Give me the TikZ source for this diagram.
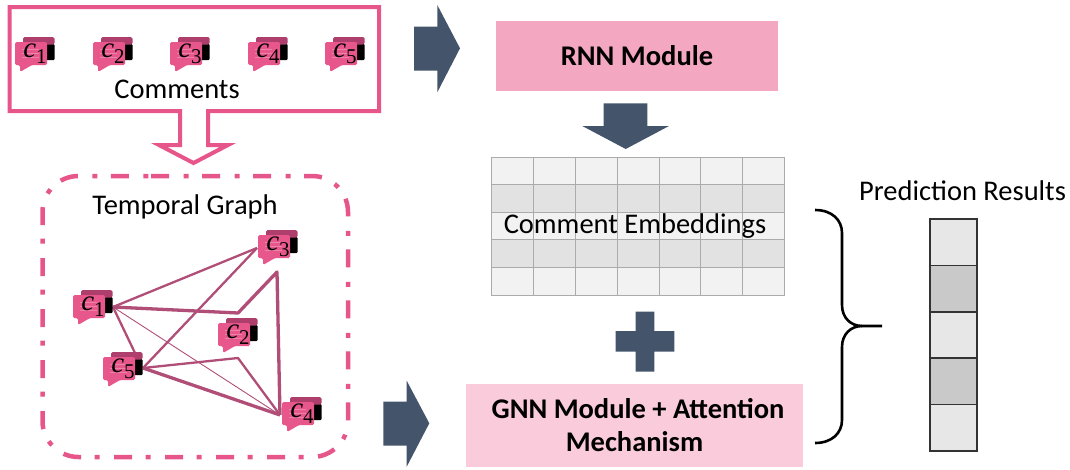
\documentclass[tikz,border=0pt]{standalone}
\usepackage{fontspec}
\setmainfont{Carlito}
\newfontfamily\cfont{Liberation Serif}
\definecolor{pinkline}{HTML}{E7568A}
\definecolor{iconback}{HTML}{AE3F6C}
\definecolor{iconfront}{HTML}{E8578C}
\definecolor{edgecol}{HTML}{B04E78}
\definecolor{slate}{HTML}{44546A}
\definecolor{rnnfill}{HTML}{F4A7C1}
\definecolor{gnnfill}{HTML}{F9CBDB}
\definecolor{gridlight}{HTML}{F2F2F2}
\definecolor{griddark}{HTML}{E2E2E2}
\definecolor{gridline}{HTML}{ABABAB}
\definecolor{cellA}{HTML}{E7E7E7}
\definecolor{cellB}{HTML}{C9C9C9}
\newcommand{\cname}[1]{{\cfont\fontsize{29}{29}\selectfont\textit{c}\raisebox{-6pt}{\fontsize{21}{21}\selectfont #1}}}
\tikzset{
  lbl/.style={inner sep=0pt,font=\fontsize{28.5}{33}\selectfont,text=black},
  boldlbl/.style={inner sep=0pt,align=center,font=\fontsize{28.5}{33}\selectfont\bfseries,text=black},
  clbl/.style={inner sep=0pt,text=black},
  darrow/.style={fill=slate,draw=none},
  graphedge/.style={draw=edgecol,line join=round},
  commenticon/.pic={
    \fill[black,rounded corners=1pt] (28,2) rectangle (39.5,18);
    \fill[iconback,rounded corners=1.5pt] (8,-5) -- (39.5,-5) -- (39.5,2.5) -- (8,2.5) -- cycle;
    \fill[iconfront,rounded corners=1.5pt] (0,0) -- (0,23) -- (5,23) -- (5,30) -- (17,23) -- (32,23) -- (32,0) -- cycle;
    \draw[white,opacity=.25,line width=.6pt] (7,7)--(24,7) (7,11)--(24,11) (7,15)--(24,15);
  }
}
\begin{document}
\begin{tikzpicture}[x=1pt,y=-1pt]
\useasboundingbox (0,0) rectangle (1070,469);
% comments box with hollow arrow
\draw[pinkline,line width=4pt,line join=miter,fill=white]
  (9.5,7) -- (379,7) -- (379,111) -- (208,111) -- (208,145) -- (228,145)
  -- (193.5,163) -- (159,145) -- (180,145) -- (180,111) -- (9.5,111) -- cycle;
\node[lbl] (comments) at (177,89) {Comments};
% icons in the row
\foreach \n/\x in {1/15,2/93,3/170,4/248,5/325}{
  \pic at (\x,42) {commenticon};
  \node[clbl] (top\n) at (\x+20,54) {\cname{\n}};
}
% temporal graph frame
\draw[pinkline,line width=4.5pt,rounded corners=36pt,dash pattern=on 18pt off 14.5pt on 5pt off 13.5pt]
  (115,176) -- (348,176) -- (348,457) -- (42.5,457) -- (42.5,176) -- cycle;
\node[lbl] (tg) at (185,206.5) {Temporal Graph};
% graph anchor points
\coordinate (a1) at (113,307);
\coordinate (a3) at (257,248);
\coordinate (a5) at (143,368);
\coordinate (a4) at (280,415);
\coordinate (m1) at (238,313);
\coordinate (m2) at (277,272);
\coordinate (m3) at (238,358);
\coordinate (a5t) at (135,353);
\draw[graphedge,line width=2.3pt] (a1) -- (a3);
\draw[graphedge,line width=3.3pt] (a1) -- (m1) -- (m2) -- (a4);
\draw[graphedge,line width=2.3pt] (a1) -- (a5t);
\draw[graphedge,line width=.9pt] (a1) -- (a4);
\draw[graphedge,line width=2.3pt] (a5) -- (a3);
\draw[graphedge,line width=2.3pt] (a5) -- (m3) -- (a4);
\draw[graphedge,line width=3.3pt] (a5) -- (a4);
\foreach \n/\x/\y in {1/73/295,2/218/323,3/258/235,4/282/402,5/103/357}{
  \pic at (\x,\y) {commenticon};
  \node[clbl] (g\n) at (\x+20,\y+12) {\cname{\n}};
}
% modules
\node[fill=rnnfill,minimum width=282pt,minimum height=70pt,boldlbl] (rnn) at (637,56) {RNN Module};
\node[fill=gnnfill,minimum width=337pt,minimum height=83pt,boldlbl] (gnn) at (634.5,425.5) {\hspace*{7pt}GNN Module + Attention\\Mechanism};
% embeddings grid
\foreach \ya/\yb/\c in {157.5/184.5/gridlight,184.5/212.5/griddark,212.5/239.5/gridlight,239.5/267.5/griddark,267.5/295.5/gridlight}{
  \fill[\c] (491.5,\ya) rectangle (784.5,\yb);
}
\foreach \x in {491.5,533.5,575.5,617.5,659.5,700.5,742.5,784.5}{\draw[gridline,line width=1.2pt] (\x,157) -- (\x,296);}
\foreach \y in {157.5,184.5,212.5,239.5,267.5,295.5}{\draw[gridline,line width=1.2pt] (491,\y) -- (785,\y);}
\node[lbl] (emb) at (635,226) {Comment Embeddings};
% dark arrows
\fill[darrow] (414,26.7) -- (437.3,26.7) -- (437.3,5) -- (460,48.3) -- (437.3,92.3) -- (437.3,70.7) -- (414,70.7) -- cycle;
\fill[darrow] (383.3,401.7) -- (406.7,401.7) -- (406.7,380.7) -- (429.3,423.3) -- (406.7,466.7) -- (406.7,445.7) -- (383.3,445.7) -- cycle;
\fill[darrow] (603.7,103.3) -- (647.3,103.3) -- (647.3,126) -- (669,126) -- (625.7,149) -- (582.3,126) -- (603.7,126) -- cycle;
\fill[darrow] (635.7,311.7) -- (654.3,311.7) -- (654.3,331) -- (674.3,331) -- (674.3,351.7) -- (654.3,351.7) -- (654.3,371.7) -- (635.7,371.7) -- (635.7,351.7) -- (615.7,351.7) -- (615.7,331) -- (635.7,331) -- cycle;
% brace
\draw[black,line width=2.6pt]
  (815,210) .. controls (832,210) and (842,220) .. (842,233) -- (842,305)
  .. controls (842,318) and (851,326) .. (862,326) -- (882,326);
\draw[black,line width=2.6pt]
  (862,326) .. controls (851,326) and (842,334) .. (842,347) -- (842,420)
  .. controls (842,433) and (832,443) .. (815,443);
% prediction column
\node[lbl] (pred) at (962.5,191) {Prediction Results};
\foreach \i/\c in {0/cellA,1/cellB,2/cellA,3/cellB,4/cellA}{
  \draw[fill=\c,draw=black!80,line width=1.5pt] (930,219+46.4*\i) rectangle (977,219+46.4*\i+46.4);
}
\end{tikzpicture}
\end{document}
